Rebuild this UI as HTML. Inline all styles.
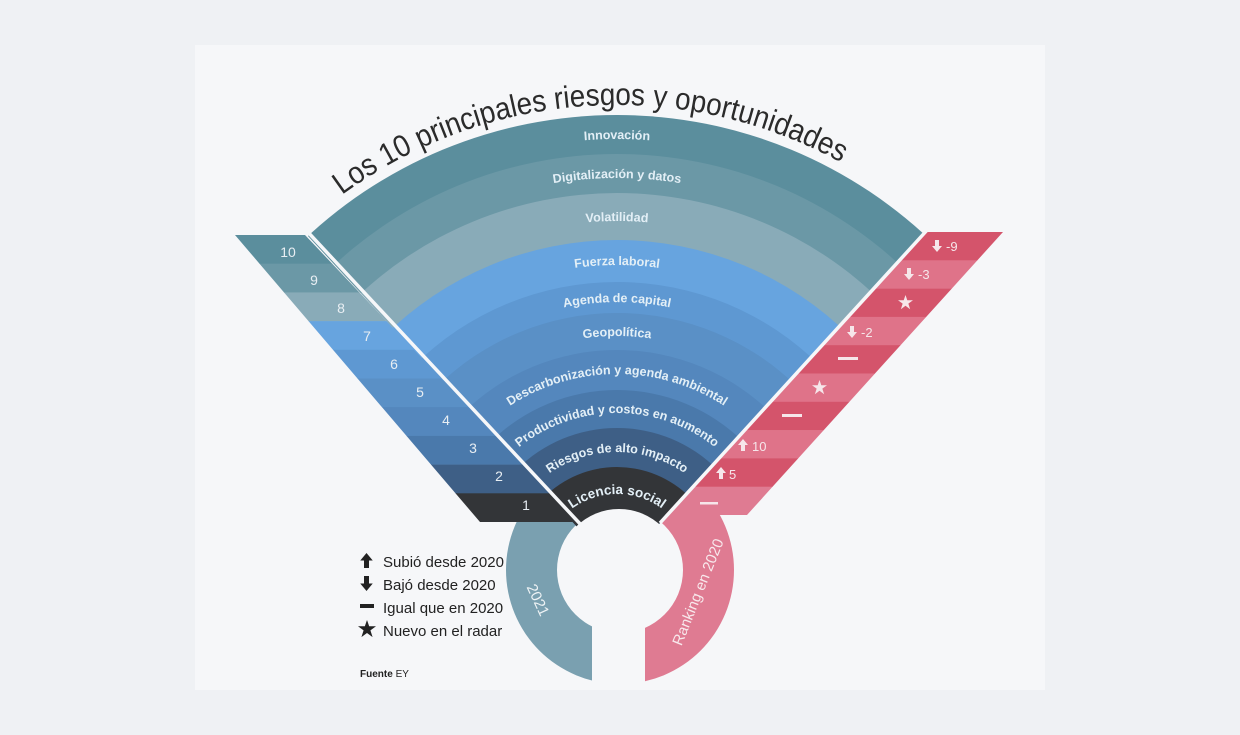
<!DOCTYPE html>
<html><head><meta charset="utf-8"><style>
html,body{margin:0;padding:0;background:#eff1f4;width:1240px;height:735px;overflow:hidden;}
svg{display:block}
</style></head><body>
<svg width="1240" height="735" viewBox="0 0 1240 735" xmlns="http://www.w3.org/2000/svg" font-family="Liberation Sans, DejaVu Sans, sans-serif">
<defs>
<clipPath id="fan"><polygon points="617,570 159,75 617,-300 1079,63"/></clipPath>
<clipPath id="ls"><polygon points="235,235 305,235 577,522 480,522"/></clipPath>
<clipPath id="rs"><polygon points="925,232 1003,232 747,515 665,515"/></clipPath>
<clipPath id="lr"><rect x="0" y="522" width="592" height="213"/></clipPath>
<clipPath id="pr"><polygon points="660,500 820,500 820,735 645,735 645,520"/></clipPath>
<symbol id="dn" viewBox="0 0 10 12"><polygon points="3,0 7,0 7,6 10,6 5,12 0,6 3,6"/></symbol>
<symbol id="up" viewBox="0 0 10 12"><polygon points="3,12 7,12 7,6 10,6 5,0 0,6 3,6"/></symbol>
<symbol id="st" viewBox="0 0 20 20"><polygon points="10,0 12.4,7 20,7 13.8,11.5 16.2,19 10,14.4 3.8,19 6.2,11.5 0,7 7.6,7"/></symbol>
<path id="t" d="M 152,570 A 465 465 0 0 1 1082,570"/>
<path id="b1" d="M 186,570 A 431 431 0 0 1 1048,570"/>
<path id="b2" d="M 225,570 A 392 392 0 0 1 1009,570"/>
<path id="b3" d="M 268,570 A 349 349 0 0 1 966,570"/>
<path id="b4" d="M 312,570 A 305 305 0 0 1 922,570"/>
<path id="b5" d="M 349,570 A 268 268 0 0 1 885,570"/>
<path id="b6" d="M 383,570 A 234 234 0 0 1 851,570"/>
<path id="b7" d="M 421,570 A 196 196 0 0 1 813,570"/>
<path id="b8" d="M 460,570 A 157 157 0 0 1 774,570"/>
<path id="b9" d="M 499,570 A 118 118 0 0 1 735,570"/>
<path id="b10" d="M 541,570 A 76 76 0 0 1 693,570"/>
</defs>
<rect x="195" y="45" width="850" height="645" fill="#f6f7f9"/>

<!-- rings -->
<g clip-path="url(#lr)"><path fill-rule="evenodd" fill="#7aa0b0" d="M506,570a114,114 0 1,0 228,0a114,114 0 1,0 -228,0z M557,570a63,63 0 1,0 126,0a63,63 0 1,0 -126,0z"/></g>
<g clip-path="url(#pr)"><path fill-rule="evenodd" fill="#df7b92" d="M506,570a114,114 0 1,0 228,0a114,114 0 1,0 -228,0z M557,570a63,63 0 1,0 126,0a63,63 0 1,0 -126,0z"/></g>

<!-- fan -->
<g clip-path="url(#fan)">
<circle cx="617" cy="570" r="455" fill="#5b8e9d"/>
<circle cx="617" cy="570" r="416" fill="#6b98a6"/>
<circle cx="617" cy="570" r="377" fill="#89abb8"/>
<circle cx="617" cy="570" r="330" fill="#67a4df"/>
<circle cx="617" cy="570" r="288" fill="#5e98d2"/>
<circle cx="617" cy="570" r="257" fill="#5a90c6"/>
<circle cx="617" cy="570" r="220" fill="#5487bd"/>
<circle cx="617" cy="570" r="180" fill="#4a79ab"/>
<circle cx="617" cy="570" r="142" fill="#3e5f86"/>
<circle cx="617" cy="570" r="103" fill="#333538"/>
</g>

<!-- left strip -->
<g clip-path="url(#ls)">
<rect x="200" y="235" width="400" height="29" fill="#5b8e9d"/>
<rect x="200" y="263.7" width="400" height="29" fill="#6b98a6"/>
<rect x="200" y="292.4" width="400" height="29" fill="#89abb8"/>
<rect x="200" y="321.1" width="400" height="29" fill="#67a4df"/>
<rect x="200" y="349.8" width="400" height="29" fill="#5e98d2"/>
<rect x="200" y="378.5" width="400" height="29" fill="#5a90c6"/>
<rect x="200" y="407.2" width="400" height="29" fill="#5487bd"/>
<rect x="200" y="435.9" width="400" height="29" fill="#4a79ab"/>
<rect x="200" y="464.6" width="400" height="29" fill="#3e5f86"/>
<rect x="200" y="493.3" width="400" height="29" fill="#333538"/>
</g>
<!-- right strip -->
<g clip-path="url(#rs)">
<rect x="600" y="232" width="420" height="28.6" fill="#d4546b"/>
<rect x="600" y="260.3" width="420" height="28.6" fill="#df7389"/>
<rect x="600" y="288.6" width="420" height="28.6" fill="#d4546b"/>
<rect x="600" y="316.9" width="420" height="28.6" fill="#df7389"/>
<rect x="600" y="345.2" width="420" height="28.6" fill="#d4546b"/>
<rect x="600" y="373.5" width="420" height="28.6" fill="#df7389"/>
<rect x="600" y="401.8" width="420" height="28.6" fill="#d4546b"/>
<rect x="600" y="430.1" width="420" height="28.6" fill="#df7389"/>
<rect x="600" y="458.4" width="420" height="28.6" fill="#d4546b"/>
<rect x="600" y="486.7" width="420" height="30" fill="#df7b92"/>
</g>
<line x1="305" y1="229" x2="583" y2="527" stroke="#f6f7f9" stroke-width="3.5"/>
<line x1="929" y1="228" x2="660" y2="523" stroke="#f6f7f9" stroke-width="3.5"/>
<circle cx="619" cy="570" r="61" fill="#f6f7f9"/>

<!-- title -->
<text font-size="31" fill="#2b2b2b"><textPath href="#t" startOffset="700" text-anchor="middle" textLength="528" lengthAdjust="spacingAndGlyphs">Los 10 principales riesgos y oportunidades</textPath></text>

<!-- band labels -->
<g font-size="12.5" font-weight="bold" fill="#e3eff6" text-anchor="middle">
<text><textPath href="#b1" startOffset="50%">Innovación</textPath></text>
<text><textPath href="#b2" startOffset="50%">Digitalización y datos</textPath></text>
<text><textPath href="#b3" startOffset="50%">Volatilidad</textPath></text>
<text><textPath href="#b4" startOffset="50%">Fuerza laboral</textPath></text>
<text><textPath href="#b5" startOffset="50%">Agenda de capital</textPath></text>
<text><textPath href="#b6" startOffset="50%">Geopolítica</textPath></text>
<text><textPath href="#b7" startOffset="50%">Descarbonización y agenda ambiental</textPath></text>
<text><textPath href="#b8" startOffset="50%">Productividad y costos en aumento</textPath></text>
<text><textPath href="#b9" startOffset="50%">Riesgos de alto impacto</textPath></text>
<text font-size="13.5"><textPath href="#b10" startOffset="50%">Licencia social</textPath></text>
</g>

<!-- left numbers -->
<g font-size="14" fill="#e8eef3" text-anchor="middle">
<text x="288" y="257">10</text><text x="314" y="285">9</text><text x="341" y="313">8</text>
<text x="367" y="341">7</text><text x="394" y="369">6</text><text x="420" y="397">5</text>
<text x="446" y="425">4</text><text x="473" y="453">3</text><text x="499" y="481">2</text>
<text x="526" y="510">1</text>
</g>

<!-- right labels -->
<g fill="#f6e6ea" font-size="13">
<use href="#dn" x="932" y="240" width="10" height="12"/><text x="946" y="251">-9</text>
<use href="#dn" x="904" y="268" width="10" height="12"/><text x="918" y="279">-3</text>
<use href="#st" x="898" y="295" width="15" height="15"/>
<use href="#dn" x="847" y="326" width="10" height="12"/><text x="861" y="337">-2</text>
<rect x="838" y="357" width="20" height="3"/>
<use href="#st" x="812" y="380" width="15" height="15"/>
<rect x="782" y="414" width="20" height="3"/>
<use href="#up" x="738" y="439" width="10" height="12"/><text x="752" y="451">10</text>
<use href="#up" x="716" y="467" width="10" height="12"/><text x="729" y="479">5</text>
<rect x="700" y="502" width="18" height="2.5"/>
</g>

<!-- ring labels -->
<text x="538" y="605" font-size="15" fill="#eef3f5" text-anchor="middle" transform="rotate(65 538 600)">2021</text>
<text x="698" y="597" font-size="15" fill="#f8e8ec" text-anchor="middle" transform="rotate(-68 698 592)">Ranking en 2020</text>

<!-- legend -->
<g fill="#222">
<use href="#up" x="360" y="553" width="13" height="15"/>
<text x="383" y="567" font-size="15">Subió desde 2020</text>
<use href="#dn" x="360" y="576" width="13" height="15"/>
<text x="383" y="590" font-size="15">Bajó desde 2020</text>
<rect x="360" y="604" width="14" height="4"/>
<text x="383" y="613" font-size="15">Igual que en 2020</text>
<use href="#st" x="358" y="620" width="18" height="18"/>
<text x="383" y="636" font-size="15">Nuevo en el radar</text>
<text x="360" y="677" font-size="10" font-weight="bold">Fuente <tspan font-weight="normal">EY</tspan></text>
</g>
</svg>
</body></html>
